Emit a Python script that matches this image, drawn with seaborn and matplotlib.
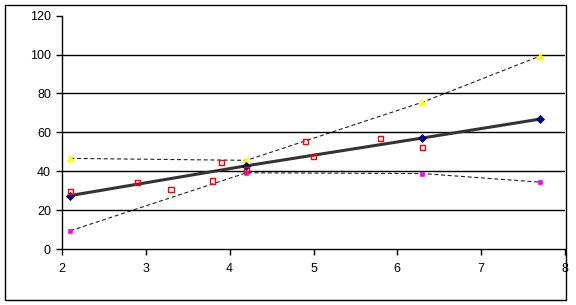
import numpy as np
import pandas as pd
import matplotlib
matplotlib.use("Agg")
import matplotlib.pyplot as plt
import seaborn as sns
from matplotlib.patches import Rectangle

# Data
x_series = [2.1, 4.2, 6.3, 7.7]
blue_y = [27.5, 42.8, 57.1, 66.8]
yellow_y = [46.6, 45.6, 75.5, 99.2]
magenta_y = [9.4, 39.2, 38.8, 34.4]

obs_x = [2.1, 2.9, 3.3, 3.8, 3.9, 4.2, 4.9, 5.0, 5.8, 6.3]
obs_y = [29.4, 34.1, 30.4, 35.0, 44.5, 40.6, 55.2, 47.5, 56.8, 52.1]

x_ticks = [2, 3, 4, 5, 6, 7, 8]
y_ticks = [0, 20, 40, 60, 80, 100, 120]

sns.set_style("white")
plt.rcParams["font.family"] = ["Liberation Sans", "DejaVu Sans"]

fig = plt.figure(figsize=(5.76, 3.05), dpi=100)
ax = fig.add_axes([62 / 576, 1 - 249 / 305, (565 - 62) / 576, (249 - 15.7) / 305])

# horizontal gridlines
for v in y_ticks[1:-1]:
    ax.axhline(v, color="black", lw=1.0, zorder=1)

# thin dashed series lines
for ys in (yellow_y, magenta_y):
    sns.lineplot(x=x_series, y=ys, color="#222222", lw=0.8, linestyle=(0, (3.6, 2.4)), ax=ax, zorder=2)

# solid trend line
sns.lineplot(x=x_series, y=blue_y, color="#333333", lw=2.2, ax=ax, zorder=3)

# markers
sns.scatterplot(x=x_series, y=yellow_y, marker="^", s=24, color="#FFFF00", edgecolor="#FFFF00", linewidth=0.5, ax=ax, zorder=4)
sns.scatterplot(x=x_series, y=magenta_y, marker="s", s=9, color="#FF00FF", edgecolor="#FF00FF", linewidth=0.5, ax=ax, zorder=4)
sns.scatterplot(x=x_series, y=blue_y, marker="D", s=17, color="#000080", edgecolor="#000080", linewidth=0.5, ax=ax, zorder=5)
sns.scatterplot(x=obs_x, y=obs_y, marker="s", s=14, facecolor="none", edgecolor="#FF0000", linewidth=1.0, ax=ax, zorder=6)

ax.set_xlim(2, 8)
ax.set_ylim(0, 120)
ax.set_xticks(x_ticks)
ax.set_yticks(y_ticks)
ax.set_xlabel("")
ax.set_ylabel("")
for s in ("top", "right"):
    ax.spines[s].set_visible(False)
for s in ("left", "bottom"):
    ax.spines[s].set_color("black")
    ax.spines[s].set_linewidth(1.0)
ax.tick_params(axis="both", which="major", direction="out", length=4, width=1,
               color="black", labelsize=9, labelcolor="black", bottom=True, left=True)
ax.tick_params(axis="x", pad=6)
ax.tick_params(axis="y", pad=4)
if ax.get_legend():
    ax.get_legend().remove()

# chart border
fig.patches.append(Rectangle((5 / 576, 5 / 305), 560.5 / 576, 295 / 305, transform=fig.transFigure,
                             fill=False, edgecolor="black", lw=1.0))

fig.savefig("out.png", dpi=100)
